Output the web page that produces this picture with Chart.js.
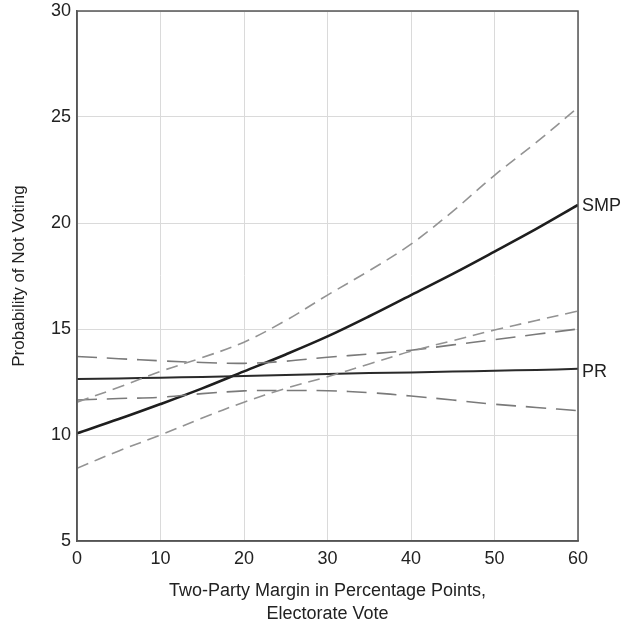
<!DOCTYPE html>
<html>
<head>
<meta charset="utf-8">
<script src="https://cdn.jsdelivr.net/npm/chart.js@4/dist/chart.umd.min.js"></script>
<style>
  html, body { margin: 0; padding: 0; background: #fff; }
  #wrap { width: 623px; height: 622px; }
</style>
</head>
<body>
<div id="wrap"><canvas id="turnout-chart"></canvas></div>
<script>
// margin values along the x axis
const margins = [0, 5, 10, 15, 20, 25, 30, 35, 40, 45, 50, 55, 60];

// single-member plurality: estimate and bounds
const smp = [10.08, 10.75, 11.46, 12.2, 13.0, 13.8, 14.65, 15.6, 16.6, 17.6, 18.65, 19.72, 20.85];
const smpUpper = [11.55, 12.25, 13.0, 13.65, 14.38, 15.4, 16.6, 17.75, 19.0, 20.55, 22.25, 23.8, 25.45];
const smpLower = [8.43, 9.25, 10.0, 10.8, 11.55, 12.2, 12.75, 13.35, 13.95, 14.45, 14.95, 15.4, 15.85];

// proportional representation: estimate and bounds
const pr = [12.64, 12.67, 12.7, 12.74, 12.78, 12.83, 12.88, 12.92, 12.95, 12.99, 13.03, 13.07, 13.12];
const prUpper = [13.7, 13.6, 13.5, 13.42, 13.38, 13.48, 13.67, 13.82, 14.0, 14.25, 14.5, 14.75, 15.0];
const prLower = [11.65, 11.72, 11.78, 11.95, 12.08, 12.1, 12.09, 12.0, 11.84, 11.65, 11.45, 11.3, 11.15];

const xTicks = [0, 10, 20, 30, 40, 50, 60];
const yTicks = [5, 10, 15, 20, 25, 30];

const FONT = "'Liberation Sans', Arial, Helvetica, sans-serif";

function toPoints(values) {
  return margins.map((m, i) => ({ x: m, y: values[i] }));
}

function lineSet(label, values, color, width, dash) {
  return {
    label: label,
    data: toPoints(values),
    borderColor: color,
    borderWidth: width,
    borderDash: dash,
    pointRadius: 0,
    fill: false,
    tension: 0.35,
  };
}

// frame around the plot and the end labels
const framePlugin = {
  id: 'frame',
  afterDatasetsDraw(chart) {
    const { ctx, chartArea, scales } = chart;
    ctx.save();
    ctx.strokeStyle = '#555';
    ctx.lineWidth = 1.5;
    ctx.strokeRect(chartArea.left, chartArea.top,
      chartArea.right - chartArea.left, chartArea.bottom - chartArea.top);

    ctx.fillStyle = '#222';
    ctx.font = '18px ' + FONT;
    ctx.textBaseline = 'middle';
    ctx.textAlign = 'left';
    ctx.fillText('SMP', chartArea.right + 4, scales.y.getPixelForValue(smp[smp.length - 1]) + 1);
    ctx.fillText('PR', chartArea.right + 4, scales.y.getPixelForValue(pr[pr.length - 1]) + 3);
    ctx.restore();
  },
};

const ctx = document.getElementById('turnout-chart').getContext('2d');

new Chart(ctx, {
  type: 'line',
  data: {
    datasets: [
      lineSet('SMP upper', smpUpper, '#939393', 1.6, [12, 7]),
      lineSet('SMP lower', smpLower, '#939393', 1.6, [12, 7]),
      lineSet('PR upper', prUpper, '#7a7a7a', 1.6, [20, 10]),
      lineSet('PR lower', prLower, '#7a7a7a', 1.6, [20, 10]),
      lineSet('PR', pr, '#2a2a2a', 2, []),
      lineSet('SMP', smp, '#1e1e1e', 2.6, []),
    ],
  },
  options: {
    responsive: true,
    maintainAspectRatio: false,
    animation: false,
    layout: { padding: { top: 0, right: 45, left: 0, bottom: 0 } },
    plugins: {
      legend: { display: false },
      tooltip: { enabled: false },
    },
    scales: {
      x: {
        type: 'linear',
        min: 0,
        max: 60,
        afterBuildTicks: (axis) => { axis.ticks = xTicks.map((v) => ({ value: v })); },
        afterFit: (axis) => { axis.height = 81; },
        grid: { color: '#dadada', lineWidth: 1, drawTicks: false },
        border: { color: '#555', width: 1.5 },
        ticks: { color: '#222', font: { family: FONT, size: 18 }, padding: 7, maxRotation: 0 },
        title: {
          display: true,
          text: ['Two-Party Margin in Percentage Points,', 'Electorate Vote'],
          color: '#222',
          font: { family: FONT, size: 18, lineHeight: 1.3 },
          padding: { top: 10, bottom: -4 },
        },
      },
      y: {
        type: 'linear',
        min: 5,
        max: 30,
        afterBuildTicks: (axis) => { axis.ticks = yTicks.map((v) => ({ value: v })); },
        afterFit: (axis) => { axis.width = 77; axis.paddingTop = 11; },
        grid: { color: '#dadada', lineWidth: 1, drawTicks: false },
        border: { color: '#555', width: 1.5 },
        ticks: { color: '#222', font: { family: FONT, size: 18 }, padding: 6 },
        title: {
          display: true,
          text: 'Probability of Not Voting',
          color: '#222',
          font: { family: FONT, size: 17 },
          padding: { top: 9, bottom: 0 },
        },
      },
    },
  },
  plugins: [framePlugin],
});
</script>
</body>
</html>
